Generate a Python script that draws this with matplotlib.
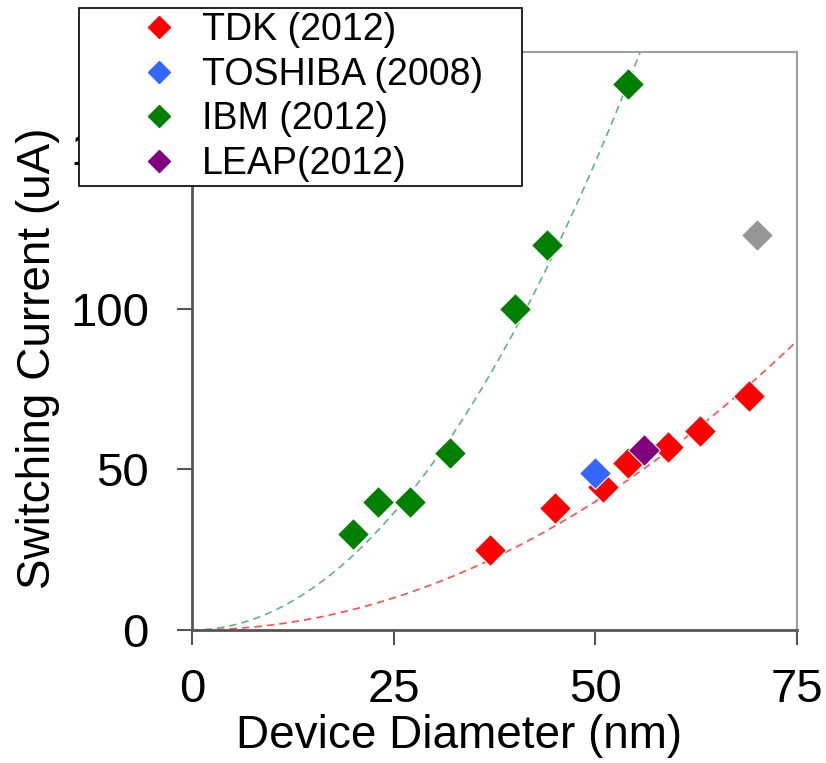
import numpy as np
import matplotlib
matplotlib.use("Agg")
import matplotlib.pyplot as plt
from matplotlib.lines import Line2D
from matplotlib.patches import Rectangle

plt.rcParams['font.family'] = ['Liberation Sans', 'DejaVu Sans']

# data (diameter nm, switching current uA)
tdk_d = [37, 45, 51, 54, 59, 63, 69]
tdk_i = [25, 38, 44.5, 52, 57, 62, 73]
toshiba_d = [50]
toshiba_i = [49]
ibm_d = [20, 23, 27, 32, 40, 44, 54]
ibm_i = [30, 40, 40, 55, 100, 120, 170]
leap_d = [56]
leap_i = [56]
other_d = [70]
other_i = [123]

# quadratic trend lines I = k * d^2
tdk_k = 0.016
ibm_k = 0.0583

labels = ['TDK (2012)', 'TOSHIBA (2008)', 'IBM (2012)', 'LEAP(2012)']
colors = ['#ff0000', '#3366ff', '#008000', '#800080']

W, H = 826, 763
fig = plt.figure(figsize=(W / 100, H / 100), dpi=100)
ax = fig.add_axes([192 / W, 1 - 630 / H, (797 - 192) / W, (630 - 52) / H])

d = np.linspace(0, 75, 300)
ax.plot(d, ibm_k * d ** 2, color='#5fb38a', lw=1.2, dashes=(4.5, 3), zorder=2)
ax.plot(d, tdk_k * d ** 2, color='#ff4d4d', lw=1.2, dashes=(4.5, 3), zorder=2)

mk = dict(marker='D', ms=16.5, ls='none', mec='white', mew=0.8, zorder=3)
ax.plot(tdk_d, tdk_i, color=colors[0], **mk)
ax.plot(toshiba_d, toshiba_i, color=colors[1], **mk)
ax.plot(ibm_d, ibm_i, color=colors[2], **mk)
ax.plot(leap_d, leap_i, color=colors[3], **mk)
ax.plot(other_d, other_i, color='#969696', **mk)

ax.set_xlim(0, 75)
ax.set_ylim(0, 180)
ax.set_xticks([0, 25, 50, 75])
ax.set_yticks([0, 50, 100, 150])
ax.tick_params(direction='out', length=11, width=1.5, color='#555555',
               labelsize=34)
ax.tick_params(axis='x', pad=16)
ax.tick_params(axis='y', pad=20)

for s in ['left', 'bottom']:
    ax.spines[s].set_color('#555555')
    ax.spines[s].set_linewidth(2)
for s in ['top', 'right']:
    ax.spines[s].set_color('#a0a0a0')
    ax.spines[s].set_linewidth(1.5)

ax.set_xlabel('Device Diameter (nm)', fontsize=33)
ax.set_ylabel('Switching Current (uA)', fontsize=33)
ax.xaxis.set_label_coords(0.441, -0.145)
ax.yaxis.set_label_coords(-0.218, 0.47)

# legend box sits over the axes corner, wider than its contents
box = Rectangle((79 / W, 1 - 186 / H), (522 - 79) / W, (186 - 8) / H,
                transform=fig.transFigure, fc='white', ec='black', lw=1.2,
                zorder=4)
fig.add_artist(box)

handles = [Line2D([], [], marker='D', ls='none', color=c, ms=16.5)
           for c in colors]
fig.legend(handles, labels, loc='upper left',
           bbox_to_anchor=(140 / W, 1 - 12 / H), frameon=False,
           borderpad=0, borderaxespad=0, handlelength=1.0,
           handletextpad=0.64, labelspacing=0.23, fontsize=27,
           markerscale=0.68)

fig.savefig('out.png', dpi=100)
